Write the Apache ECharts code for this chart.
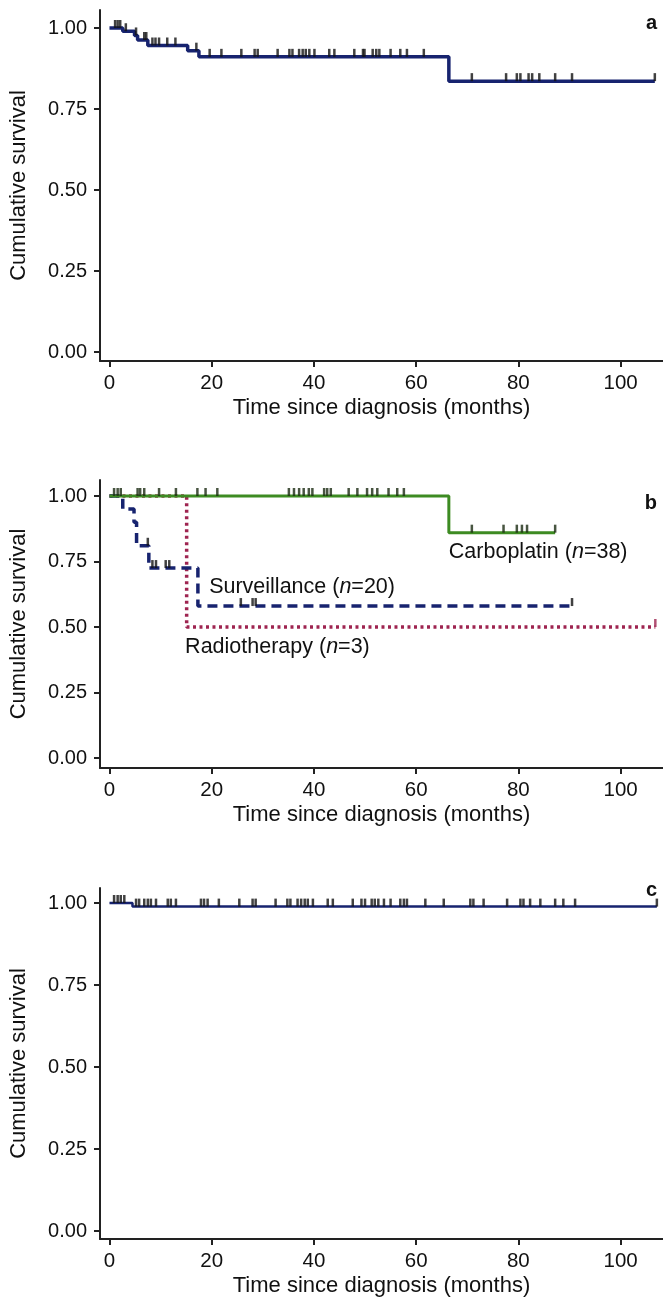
<!DOCTYPE html>
<html>
<head>
<meta charset="utf-8">
<script src="https://cdn.jsdelivr.net/npm/echarts@6/dist/echarts.min.js"></script>
<style>html,body{margin:0;padding:0;background:#fff}#c{width:663px;height:1303px}</style>
</head>
<body>
<div id="c"></div>
<script>
// ---- data ----
const xTicks = [0, 20, 40, 60, 80, 100];
const yTicks = [0, 0.25, 0.5, 0.75, 1];

// panel a: all patients
const aTimes = [0, 2.6, 4.9, 5.5, 7.5, 15.3, 17.5, 66.4, 106.7];
const aSurv  = [1.0, 0.99, 0.977, 0.963, 0.946, 0.930, 0.911, 0.836, 0.836];
const aCensor = [1.1, 1.6, 2.1, 3.2, 5.2, 6.8, 7.2, 8.4, 9.0, 9.7, 11.3, 12.9, 17.0, 19.6, 21.9, 25.8, 28.4, 29.0, 32.9, 35.2, 35.8, 37.1, 37.8, 38.4, 39.1, 40.1, 43.0, 44.0, 47.9, 49.6, 49.9, 51.5, 52.2, 52.8, 55.0, 56.9, 58.2, 61.5, 70.9, 77.6, 79.7, 80.4, 82.0, 82.7, 84.1, 87.2, 90.5, 106.7];

// panel b: by treatment
const carboTimes = [0, 66.4, 87.2];
const carboSurv  = [1.0, 0.86, 0.86];
const carboCensor = [0.9, 1.6, 2.2, 5.5, 6.0, 6.8, 9.7, 13.0, 17.2, 18.8, 21.1, 35.1, 36.1, 37.1, 38.0, 39.0, 39.7, 42.0, 42.6, 43.3, 46.8, 48.5, 50.4, 51.4, 52.4, 54.6, 56.3, 57.6, 70.9, 77.1, 79.7, 80.7, 81.7, 87.2];
const survTimes = [0, 2.6, 4.8, 5.3, 7.7, 17.3, 90.5];
const survSurv  = [1.0, 0.95, 0.90, 0.81, 0.725, 0.58, 0.58];
const survCensor = [7.5, 8.4, 9.1, 11.0, 11.7, 25.7, 28.0, 28.6, 90.5];
const radioTimes = [0, 15.1, 106.8];
const radioSurv  = [1.0, 0.5, 0.5];
const radioCensor = [106.8];

// panel c
const cTimes = [0, 4.5, 107.1];
const cSurv  = [1.0, 0.989, 0.989];
const cCensor = [0.9, 1.6, 2.2, 2.9, 5.2, 5.8, 6.8, 7.5, 8.1, 9.1, 11.4, 12.0, 13.0, 17.9, 18.5, 19.2, 21.4, 25.4, 28.0, 28.6, 32.5, 34.8, 35.4, 36.8, 37.5, 38.2, 38.8, 39.8, 42.7, 43.7, 47.6, 49.3, 50.0, 51.3, 51.9, 52.6, 53.7, 55.0, 56.9, 57.6, 58.2, 61.8, 65.4, 70.6, 71.2, 73.2, 77.8, 80.4, 81.0, 82.3, 84.3, 87.2, 88.8, 91.1, 107.1];

// ---- helpers ----
const FONT = 'Liberation Sans, Arial, Helvetica, sans-serif';
const NAVY = '#17236f', GREEN = '#3d8b22', MAROON = '#9e2450', AXIS = '#222';
function pairs(t, s) { return t.map((v, i) => [v, s[i]]); }
function stepAt(t, s, x) { let v = s[0]; for (let i = 0; i < t.length; i++) { if (t[i] <= x) v = s[i]; } return v; }
function censorPts(c, t, s) { return c.map(x => [x, stepAt(t, s, x)]); }

const grids = [
  { left: 99, right: 0, top: 10, height: 351 },
  { left: 99, right: 0, top: 480, height: 288 },
  { left: 99, right: 0, top: 888, height: 351 }
];
const yRanges = [[-0.02778, 1.05556], [-0.03817, 1.06107], [-0.02439, 1.04573]];

function xAx(i) {
  return {
    gridIndex: i, type: 'value', min: -1.855, max: 108.3,
    name: 'Time since diagnosis (months)', nameLocation: 'middle', nameGap: 36,
    nameTextStyle: { fontFamily: FONT, fontSize: 22, color: '#111' },
    axisLine: { onZero: false, lineStyle: { color: AXIS, width: 2 } },
    axisTick: { show: true, length: 6, lineStyle: { color: AXIS, width: 2 }, customValues: xTicks },
    axisLabel: { margin: 12, fontFamily: FONT, fontSize: 20.5, color: '#111', customValues: xTicks, formatter: v => String(Math.round(v)) },
    splitLine: { show: false }
  };
}
function yAx(i) {
  return {
    gridIndex: i, type: 'value', min: yRanges[i][0], max: yRanges[i][1],
    name: 'Cumulative survival', nameLocation: 'middle', nameGap: 70,
    nameTextStyle: { fontFamily: FONT, fontSize: 22, color: '#111' },
    axisLine: { onZero: false, lineStyle: { color: AXIS, width: 2 } },
    axisTick: { show: true, length: 6, lineStyle: { color: AXIS, width: 2 }, customValues: yTicks },
    axisLabel: { margin: 13, fontFamily: FONT, fontSize: 20, color: '#111', customValues: yTicks, formatter: v => v.toFixed(2) },
    splitLine: { show: false }
  };
}
function kmLine(i, t, s, color, width, type, z, mp) {
  const o = {
    type: 'line', xAxisIndex: i, yAxisIndex: i, data: pairs(t, s), step: 'end',
    showSymbol: false, symbol: 'none', z: z, silent: true,
    lineStyle: { color: color, width: width, type: type, cap: 'butt' }
  };
  if (mp) o.markPoint = mp;
  return o;
}
function censor(i, c, t, s, color, z) {
  return {
    type: 'scatter', xAxisIndex: i, yAxisIndex: i, data: censorPts(c, t, s),
    symbol: 'rect', symbolSize: [2.5, 8], symbolOffset: [0, -4], z: z, silent: true,
    itemStyle: { color: color }
  };
}
function annot(x, y, txt, n) {
  return {
    symbol: 'circle', symbolSize: 1, itemStyle: { color: 'rgba(0,0,0,0)' }, silent: true,
    label: {
      show: true, position: 'right', distance: 0,
      formatter: '{a|' + txt + ' (}{i|n}{a|=' + n + ')}',
      rich: {
        a: { fontFamily: FONT, fontSize: 21.5, color: '#111' },
        i: { fontFamily: FONT, fontSize: 21.5, color: '#111', fontStyle: 'italic' }
      }
    },
    data: [{ coord: [x, y] }]
  };
}

const chart = echarts.init(document.getElementById('c'), null, { renderer: 'canvas' });
chart.setOption({
  animation: false,
  backgroundColor: '#fff',
  grid: grids,
  xAxis: [xAx(0), xAx(1), xAx(2)],
  yAxis: [yAx(0), yAx(1), yAx(2)],
  graphic: [
    { type: 'text', x: 657, y: 23, style: { text: 'a', font: 'bold 20px ' + FONT, fill: '#111', textAlign: 'right', textVerticalAlign: 'middle' } },
    { type: 'text', x: 657, y: 503, style: { text: 'b', font: 'bold 20px ' + FONT, fill: '#111', textAlign: 'right', textVerticalAlign: 'middle' } },
    { type: 'text', x: 657, y: 890, style: { text: 'c', font: 'bold 20px ' + FONT, fill: '#111', textAlign: 'right', textVerticalAlign: 'middle' } }
  ],
  series: [
    kmLine(0, aTimes, aSurv, NAVY, 3.5, 'solid', 3),
    censor(0, aCensor, aTimes, aSurv, '#111', 4),

    kmLine(1, radioTimes, radioSurv, MAROON, 3.5, [3, 3.5], 2, annot(14.7, 0.424, 'Radiotherapy', 3)),
    censor(1, radioCensor, radioTimes, radioSurv, MAROON, 2),
    kmLine(1, survTimes, survSurv, NAVY, 3.5, [10, 6], 3, annot(19.4, 0.653, 'Surveillance', 20)),
    censor(1, survCensor, survTimes, survSurv, '#111', 3),
    kmLine(1, carboTimes, carboSurv, GREEN, 3, 'solid', 4, annot(66.3, 0.786, 'Carboplatin', 38)),
    censor(1, carboCensor, carboTimes, carboSurv, '#1a2a12', 5),

    kmLine(2, cTimes, cSurv, NAVY, 2.5, 'solid', 3),
    censor(2, cCensor, cTimes, cSurv, '#111', 4)
  ]
});
</script>
</body>
</html>
